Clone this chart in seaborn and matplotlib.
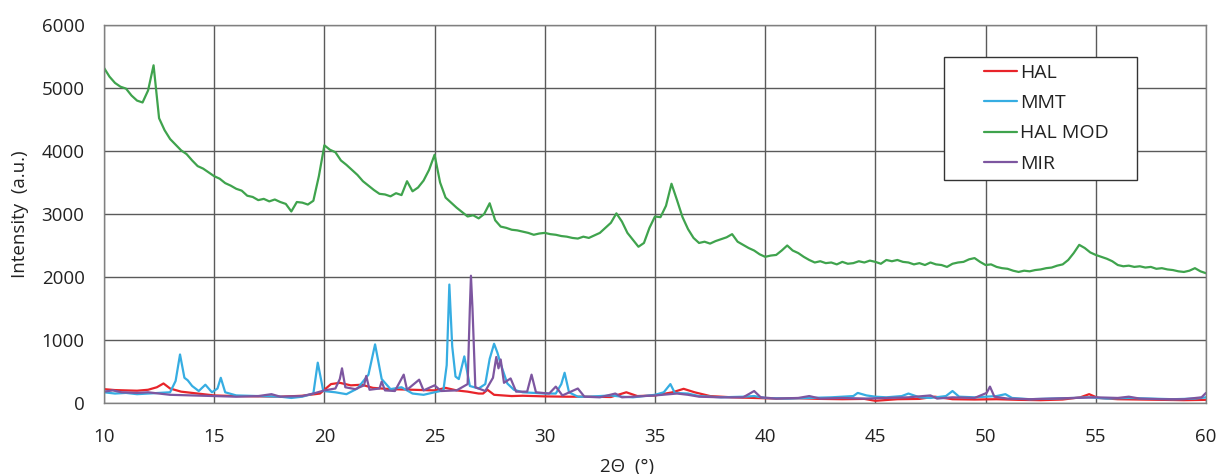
import numpy as np
import pandas as pd
import matplotlib
matplotlib.use("Agg")
import matplotlib.pyplot as plt
from matplotlib.patches import Rectangle
import seaborn as sns

# HAL MOD - every 0.25 deg from 10 to 60
hal_mod_x = np.arange(10, 60.001, 0.25)
hal_mod_y = [
    5320, 5180, 5080, 5020, 4990, 4880, 4800, 4770, 4960, 5360, 4520, 4330,
    4190, 4100, 4010, 3950, 3850, 3760, 3720, 3660, 3600, 3560, 3490, 3450,
    3400, 3370, 3290, 3270, 3220, 3240, 3200, 3230, 3190, 3160, 3040, 3190,
    3180, 3150, 3210, 3600, 4090, 4020, 3980, 3850, 3780, 3700, 3620, 3520,
    3450, 3380, 3320, 3310, 3280, 3330, 3300, 3520, 3360, 3420, 3530, 3700,
    3940, 3500, 3260, 3180, 3100, 3030, 2960, 2980, 2930, 3000, 3170, 2900,
    2800, 2780, 2750, 2740, 2720, 2700, 2670, 2690, 2700, 2680, 2670, 2650,
    2640, 2620, 2610, 2640, 2620, 2660, 2700, 2780, 2860, 3010, 2880, 2700,
    2590, 2480, 2540, 2780, 2960, 2950, 3130, 3480, 3220, 2950, 2760, 2620,
    2540, 2560, 2530, 2570, 2600, 2630, 2680, 2560, 2510, 2460, 2420, 2360,
    2320, 2340, 2350, 2420, 2500, 2420, 2380, 2320, 2270, 2230, 2250, 2220,
    2230, 2200, 2240, 2210, 2220, 2250, 2230, 2260, 2240, 2210, 2270, 2250,
    2270, 2240, 2230, 2200, 2220, 2190, 2230, 2200, 2190, 2160, 2210, 2230,
    2240, 2280, 2300, 2240, 2190, 2200, 2160, 2140, 2130, 2100, 2080, 2100,
    2090, 2110, 2120, 2140, 2150, 2180, 2200, 2270, 2380, 2510, 2460, 2390,
    2350, 2320, 2290, 2250, 2190, 2170, 2180, 2160, 2170, 2150, 2160, 2130,
    2140, 2120, 2110, 2090, 2080, 2100, 2140, 2090, 2060,
]

hal_x = [10, 10.5, 11, 11.5, 12, 12.4, 12.7, 13.0, 13.5, 14, 14.5, 15, 16, 17,
         18, 19, 19.8, 20.3, 20.7, 21.2, 21.7, 22.2, 23, 24, 25, 25.5, 26, 26.5,
         27, 27.2, 27.4, 27.7, 28.5, 29, 30, 31, 32, 33, 33.7, 34.2, 35, 35.8,
         36.3, 36.8, 37.5, 38.5, 39.5, 40.5, 41.5, 42.5, 43.5, 44.5, 45, 46, 47,
         47.7, 48.5, 49.5, 50.5, 51.5, 52.5, 53.5, 54.3, 54.7, 55.1, 56, 57, 58,
         59, 60]
hal_y = [220, 205, 200, 195, 210, 250, 310, 230, 180, 160, 140, 120, 110, 105,
         100, 115, 150, 300, 320, 280, 290, 240, 220, 210, 200, 240, 200, 180,
         150, 150, 210, 130, 110, 115, 105, 100, 100, 95, 170, 110, 120, 170,
         225, 170, 110, 90, 80, 70, 75, 65, 60, 65, 35, 60, 65,
         100, 60, 55, 60, 50, 45, 55, 90, 140, 80, 60, 55, 50,
         45, 50]

mmt_x = [10, 10.5, 11, 11.5, 12, 12.5, 13, 13.25, 13.45, 13.65, 13.8, 14.0, 14.3,
         14.6, 14.9, 15.15, 15.3, 15.5, 16, 17, 18, 18.5, 19, 19.5, 19.7, 19.95,
         20.5, 21, 21.5, 22, 22.3, 22.6, 23, 23.5, 24, 24.5, 25, 25.4, 25.55,
         25.67, 25.8, 25.95, 26.1, 26.35, 26.6, 27, 27.3, 27.5, 27.7, 27.85, 28,
         28.3, 28.6, 29, 29.5, 30, 30.5, 30.75, 30.9, 31.1, 31.5, 32, 32.5, 33,
         33.5, 34, 34.5, 35, 35.4, 35.7, 35.9, 36.5, 37, 38, 39, 39.5, 40, 41,
         42, 43, 44, 44.2, 44.6, 45, 45.5, 46.2, 46.5, 47, 47.5, 48.2, 48.5,
         48.8, 49.5, 50, 50.5, 50.9, 51.2, 52, 53, 54, 54.7, 55.5, 56.5, 57.5,
         58.5, 59.5, 60]
mmt_y = [170, 150, 160, 140, 150, 160, 170, 350, 770, 400, 360, 270, 190,
         290, 170, 230, 400, 170, 120, 110, 100, 80, 100, 150, 640, 190,
         170, 140, 230, 450, 930, 380, 220, 250, 150, 130, 170, 200, 600,
         1880, 900, 420, 380, 740, 270, 230, 300, 700, 940, 800, 620,
         310, 210, 170, 160, 150, 150, 300, 480, 170, 100, 100, 110, 120,
         100, 90, 110, 130, 170, 300, 160, 150, 110, 90, 100, 110, 80, 70,
         80, 90, 110, 160, 120, 100, 90, 110, 150, 90, 80, 110, 190,
         100, 90, 100, 110, 140, 80, 60, 70, 80, 90, 70, 80, 70,
         60, 70, 90]

mir_x = [10, 10.4, 10.8, 11.5, 12, 12.5, 13, 14, 15, 16, 17, 17.6, 18, 19, 19.5,
         20, 20.5, 20.7, 20.8, 20.95, 21.4, 21.8, 21.9, 22.05, 22.5, 22.6, 22.75,
         23.2, 23.6, 23.75, 24.3, 24.5, 25, 25.3, 26, 26.5, 26.6, 26.65, 26.72,
         26.85, 27.3, 27.65, 27.8, 27.9, 28.0, 28.15, 28.45, 28.7, 29.2, 29.4,
         29.6, 30.2, 30.5, 30.8, 31.5, 31.8, 32.5, 33.2, 33.5, 34, 35, 36, 36.5,
         37, 38, 39, 39.5, 39.8, 40.5, 41.5, 42, 42.5, 43.5, 44.5, 45.5, 46.5,
         47.5, 47.8, 48.5, 49.5, 50.05, 50.2, 50.4, 51, 52, 53, 54, 55, 56, 56.5,
         57, 58, 59, 59.8, 60]
mir_y = [180, 200, 170, 160, 170, 150, 130, 120, 110, 100, 110, 140, 100, 110, 150,
         200, 230, 380, 550, 250, 220, 280, 430, 210, 230, 340, 200,
         190, 450, 210, 370, 200, 280, 190, 200, 300, 1500, 2020, 1500,
         250, 190, 400, 730, 550, 690, 320, 390, 180, 180, 450,
         170, 150, 260, 120, 230, 100, 90, 150, 90, 100, 120, 150, 130,
         100, 90, 90, 190, 90, 70, 80, 110, 70, 80, 70, 80, 90,
         120, 70, 90, 80, 160, 260, 100, 70, 60, 70, 80, 90, 80, 100,
         70, 60, 60, 90, 160]

series_names = ["HAL", "MMT", "HAL MOD", "MIR"]
series_colors = ["#e8242a", "#36ade2", "#3fa34d", "#7d56a0"]

df = pd.concat([
    pd.DataFrame({"x": hal_x, "y": hal_y, "Sample": "HAL"}),
    pd.DataFrame({"x": mmt_x, "y": mmt_y, "Sample": "MMT"}),
    pd.DataFrame({"x": hal_mod_x, "y": hal_mod_y, "Sample": "HAL MOD"}),
    pd.DataFrame({"x": mir_x, "y": mir_y, "Sample": "MIR"}),
], ignore_index=True)

sns.set_theme(style="whitegrid")
plt.rcParams['font.family'] = ['Open Sans', 'DejaVu Sans']

fig = plt.figure(figsize=(12.19, 4.74), dpi=100)
ax = fig.add_axes([0.0853, 0.1498, 0.904, 0.7975])

sns.lineplot(data=df, x="x", y="y", hue="Sample", hue_order=series_names,
             palette=dict(zip(series_names, series_colors)), estimator=None,
             sort=False, linewidth=1.6, ax=ax)

ax.set_xlim(10, 60)
ax.set_ylim(0, 6000)
ax.set_xticks(range(10, 61, 5))
ax.set_yticks(range(0, 6001, 1000))
ax.grid(True, color="#5a5a5a", linewidth=1.0)
for sp in ax.spines.values():
    sp.set_visible(True)
    sp.set_color("#808080")
    sp.set_linewidth(1.0)
ax.tick_params(axis="both", length=0, labelsize=13.5, colors="#222222")
ax.tick_params(axis="x", pad=18)
ax.tick_params(axis="y", pad=14)

ax.set_xlabel("2Θ  (°)", fontsize=13.5, color="#222222")
ax.xaxis.set_label_coords(0.475, -0.145)
ax.set_ylabel("Intensity  (a.u.)", fontsize=13.5, color="#222222")
ax.yaxis.set_label_coords(-0.068, 0.5)

# legend box (wide white frame like the original), entries drawn inside it
ax.add_patch(Rectangle((0.762, 0.590), 0.175, 0.325, transform=ax.transAxes,
                       facecolor="white", edgecolor="#333333", linewidth=1.0,
                       zorder=4))
leg = ax.legend(title=None, loc="upper left", bbox_to_anchor=(0.7985, 0.897),
                fontsize=14, frameon=False, handlelength=1.7,
                handletextpad=0.15, borderpad=0, labelspacing=0.63,
                borderaxespad=0)
leg.set_zorder(5)
for t in leg.get_texts():
    t.set_color("#222222")
for h in leg.legend_handles:
    h.set_linewidth(1.6)

fig.savefig("out.png", dpi=100)
